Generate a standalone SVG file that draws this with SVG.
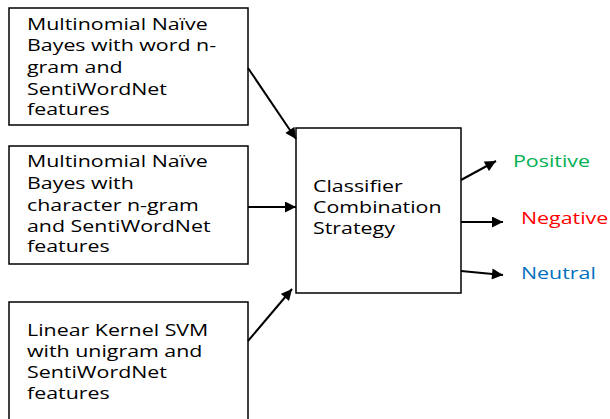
<svg xmlns="http://www.w3.org/2000/svg" width="610" height="419" viewBox="0 0 610 419">
<defs>
<marker id="ah" viewBox="0 0 10 10" refX="10" refY="5" markerWidth="6" markerHeight="5.5" orient="auto" markerUnits="strokeWidth"><path d="M0,0 L10,5 L0,10 z" fill="#000"/></marker>
<style>
.box{fill:#fff;stroke:#000;stroke-width:1.5}
.t{font-family:"Open Sans","DejaVu Sans",sans-serif;font-size:15.5px;fill:#000}
.c{stroke:#000;stroke-width:2;fill:none;marker-end:url(#ah)}
</style>
</defs>
<rect width="610" height="419" fill="#fff"/>
<g id="node1"><rect class="box" x="9" y="8" width="239" height="117"/>
<text class="t" transform="matrix(1.38 0 0 1 27 0)"><tspan x="0" y="30">Multinomial Naïve</tspan><tspan x="0" y="51">Bayes with word n-</tspan><tspan x="0" y="73">gram and</tspan><tspan x="0" y="95">SentiWordNet</tspan><tspan x="0" y="115">features</tspan></text></g>
<g id="node2"><rect class="box" x="9" y="146" width="239" height="118"/>
<text class="t" transform="matrix(1.38 0 0 1 27 0)"><tspan x="0" y="167">Multinomial Naïve</tspan><tspan x="0" y="189">Bayes with</tspan><tspan x="0" y="211">character n-gram</tspan><tspan x="0" y="232">and SentiWordNet</tspan><tspan x="0" y="252">features</tspan></text></g>
<g id="node3"><rect class="box" x="9" y="302" width="239" height="130"/>
<text class="t" transform="matrix(1.38 0 0 1 27 0)"><tspan x="0" y="336">Linear Kernel SVM</tspan><tspan x="0" y="357">with unigram and</tspan><tspan x="0" y="378">SentiWordNet</tspan><tspan x="0" y="399">features</tspan></text></g>
<g id="node4"><rect class="box" x="296" y="128" width="165" height="165"/>
<text class="t" transform="matrix(1.38 0 0 1 313 0)"><tspan x="0" y="192">Classifier</tspan><tspan x="0" y="213">Combination</tspan><tspan x="0" y="234">Strategy</tspan></text></g>
<g id="positive"><text class="t" transform="matrix(1.38 0 0 1 513 0)" x="0" y="167" style="fill:#00B050">Positive</text></g>
<g id="negative"><text class="t" transform="matrix(1.38 0 0 1 521 0)" x="0" y="224" style="fill:#FF0000">Negative</text></g>
<g id="neutral"><text class="t" transform="matrix(1.38 0 0 1 521 0)" x="0" y="279" style="fill:#0070C0">Neutral</text></g>
<g id="connectors">
<line class="c" x1="248" y1="68" x2="296" y2="139"/>
<line class="c" x1="248" y1="207" x2="296" y2="207"/>
<line class="c" x1="248" y1="341" x2="292" y2="289"/>
<line class="c" x1="461" y1="180" x2="496" y2="161"/>
<line class="c" x1="461" y1="222" x2="503" y2="222"/>
<line class="c" x1="461" y1="271" x2="503" y2="275"/>
</g>
</svg>
